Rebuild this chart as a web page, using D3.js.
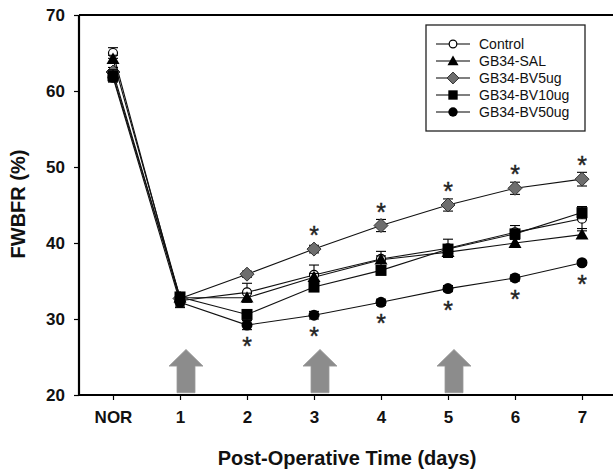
<html>
<head>
<script src="https://d3js.org/d3.v7.min.js"></script>
<style>
  body { margin: 0; background: #fff; }
  text { font-family: "Liberation Sans", Arial, sans-serif; }
</style>
</head>
<body>
<svg width="613" height="471"></svg>
<script>
var days = ["NOR", "1", "2", "3", "4", "5", "6", "7"];
var yTicks = [20, 30, 40, 50, 60, 70];

var control = [65.0, 32.4, 33.5, 35.8, 37.9, 39.3, 41.4, 43.2];
var sal     = [64.2, 32.8, 32.8, 35.5, 37.8, 38.8, 40.0, 41.1];
var bv5     = [62.5, 32.7, 35.9, 39.2, 42.3, 45.0, 47.2, 48.4];
var bv10    = [62.0, 32.9, 30.6, 34.2, 36.4, 39.2, 41.2, 44.0];
var bv50    = [61.8, 32.2, 29.2, 30.5, 32.2, 34.0, 35.4, 37.4];

var controlErr = [0.7, 0.9, 1.2, 1.3, 1.0, 1.2, 0.9, 1.3];
var salErr     = [0.5, 0.5, 0.6, 0.5, 0.5, 0.5, 0.5, 0.5];
var bv5Err     = [0.6, 0.4, 0.4, 0.5, 0.8, 0.8, 0.8, 0.9];
var bv10Err    = [0.8, 0.4, 0.5, 0.5, 0.6, 0.6, 0.5, 0.8];
var bv50Err    = [0.6, 0.5, 0.6, 0.5, 0.4, 0.4, 0.4, 0.3];

var sigAbove = ["3", "4", "5", "6", "7"];       // BV5ug
var sigBelow = ["2", "3", "4", "5", "6", "7"];  // BV50ug
var arrowDays = ["1", "3", "5"];

var series = [
  {name: "Control",     values: control, err: controlErr, shape: "circleOpen"},
  {name: "GB34-SAL",    values: sal,     err: salErr,     shape: "triangle"},
  {name: "GB34-BV5ug",  values: bv5,     err: bv5Err,     shape: "diamond"},
  {name: "GB34-BV10ug", values: bv10,    err: bv10Err,    shape: "square"},
  {name: "GB34-BV50ug", values: bv50,    err: bv50Err,    shape: "circle"}
];

var svg = d3.select("svg");
var plotL = 79, plotR = 613, plotT = 15, plotB = 395;

var x = d3.scalePoint().domain(days).range([113, 582]);
var y = d3.scaleLinear().domain([20, 70]).range([plotB, plotT]);

// frame top line
svg.append("line").attr("x1", plotL).attr("x2", plotR).attr("y1", plotT).attr("y2", plotT)
   .attr("stroke", "#000").attr("stroke-width", 2);

// arrows (drawn before axis)
var arrowShape = function(cx) {
  return "M" + (cx - 17) + "," + y(23.8) + " L" + cx + "," + y(26.0) + " L" + (cx + 17) + "," + y(23.8) +
         " L" + (cx + 9) + "," + y(23.8) + " L" + (cx + 9) + "," + y(20.3) +
         " L" + (cx - 9) + "," + y(20.3) + " L" + (cx - 9) + "," + y(23.8) + "Z";
};
svg.selectAll(".arrow").data(arrowDays).enter().append("path")
   .attr("class", "arrow")
   .attr("d", function(d) { return arrowShape(x(d) + 6); })
   .attr("fill", "#8c8c8c")
   .attr("stroke", "#9a9a9a").attr("stroke-width", 0.8);

// axes
var xAxis = svg.append("g").attr("transform", "translate(0," + plotB + ")")
   .call(d3.axisBottom(x).tickSize(5).tickPadding(11));
xAxis.select(".domain").remove();
xAxis.append("line").attr("x1", plotL).attr("x2", plotR).attr("stroke", "#000").attr("stroke-width", 2.2);
xAxis.selectAll(".tick line").attr("stroke", "#000").attr("stroke-width", 1.2);
xAxis.selectAll(".tick text").attr("font-size", 17).attr("font-weight", "bold").attr("fill", "#111")
   .attr("font-family", "'Liberation Sans', Arial, sans-serif");

var yAxis = svg.append("g").attr("transform", "translate(" + plotL + ",0)")
   .call(d3.axisLeft(y).tickValues(yTicks).tickSize(5).tickPadding(9));
yAxis.select(".domain").remove();
yAxis.append("line").attr("y1", plotT).attr("y2", plotB + 1).attr("stroke", "#000").attr("stroke-width", 2.2);
yAxis.selectAll(".tick line").attr("stroke", "#000").attr("stroke-width", 1.2);
yAxis.selectAll(".tick text").attr("font-size", 17).attr("font-weight", "bold").attr("fill", "#111")
   .attr("font-family", "'Liberation Sans', Arial, sans-serif");

// axis titles
svg.append("text").attr("x", 347).attr("y", 465).attr("text-anchor", "middle")
   .attr("font-size", 20).attr("font-weight", "bold").attr("fill", "#111")
   .text("Post-Operative Time (days)");
svg.append("text").attr("transform", "translate(25,204) rotate(-90)").attr("text-anchor", "middle")
   .attr("font-size", 20).attr("font-weight", "bold").attr("fill", "#111")
   .text("FWBFR (%)");

// lines
var line = d3.line().x(function(d, i) { return x(days[i]); }).y(function(d) { return y(d); });
series.forEach(function(s) {
  svg.append("path").datum(s.values).attr("d", line)
     .attr("fill", "none").attr("stroke", "#111").attr("stroke-width", 1.1);
});

// marker drawing
function drawMarker(g, shape, cx, cy, scale) {
  scale = scale || 1;
  if (shape === "circleOpen") {
    g.append("circle").attr("cx", cx).attr("cy", cy).attr("r", 4.5 * scale)
     .attr("fill", "#fff").attr("stroke", "#000").attr("stroke-width", 1.2);
  } else if (shape === "circle") {
    g.append("circle").attr("cx", cx).attr("cy", cy).attr("r", 5.5 * scale).attr("fill", "#000");
  } else if (shape === "square") {
    var h = 5.5 * scale;
    g.append("rect").attr("x", cx - h).attr("y", cy - h).attr("width", 2 * h).attr("height", 2 * h).attr("fill", "#000");
  } else if (shape === "triangle") {
    var t = 6.5 * scale;
    g.append("path").attr("d", "M" + cx + "," + (cy - t) + " L" + (cx + t) + "," + (cy + t * 0.75) + " L" + (cx - t) + "," + (cy + t * 0.75) + "Z")
     .attr("fill", "#000");
  } else if (shape === "diamond") {
    var dd = 7 * scale;
    g.append("path").attr("d", "M" + cx + "," + (cy - dd) + " L" + (cx + dd) + "," + cy + " L" + cx + "," + (cy + dd) + " L" + (cx - dd) + "," + cy + "Z")
     .attr("fill", "#6e6e6e").attr("stroke", "#333").attr("stroke-width", 1);
  }
}

// error bars + markers
series.forEach(function(s) {
  var g = svg.append("g");
  s.values.forEach(function(v, i) {
    var cx = x(days[i]);
    var e = s.err[i];
    g.append("line").attr("x1", cx).attr("x2", cx).attr("y1", y(v - e)).attr("y2", y(v + e))
     .attr("stroke", "#000").attr("stroke-width", 1.1);
    [v - e, v + e].forEach(function(w) {
      g.append("line").attr("x1", cx - 5).attr("x2", cx + 5).attr("y1", y(w)).attr("y2", y(w))
       .attr("stroke", "#000").attr("stroke-width", 1.1);
    });
    drawMarker(g, s.shape, cx, y(v));
  });
});

// significance asterisks
svg.selectAll(".sigA").data(sigAbove).enter().append("text")
   .attr("x", function(d) { return x(d); })
   .attr("y", function(d) { var i = days.indexOf(d); return y(bv5[i]) - 19 + 14; })
   .attr("text-anchor", "middle").attr("font-size", 25).attr("fill", "#222")
   .attr("stroke", "#222").attr("stroke-width", 0.4).text("*");
svg.selectAll(".sigB").data(sigBelow).enter().append("text")
   .attr("x", function(d) { return x(d); })
   .attr("y", function(d) { var i = days.indexOf(d); return y(bv50[i]) + 16 + 14; })
   .attr("text-anchor", "middle").attr("font-size", 25).attr("fill", "#222")
   .attr("stroke", "#222").attr("stroke-width", 0.4).text("*");

// legend
var lg = svg.append("g");
lg.append("rect").attr("x", 426).attr("y", 25).attr("width", 159).attr("height", 106)
  .attr("fill", "#fff").attr("stroke", "#222").attr("stroke-width", 1.3);
var legendY = d3.scalePoint().domain(series.map(function(s) { return s.name; })).range([44, 112]);
series.forEach(function(s) {
  var ly = legendY(s.name);
  lg.append("line").attr("x1", 436).attr("x2", 470).attr("y1", ly).attr("y2", ly)
    .attr("stroke", "#000").attr("stroke-width", 1.1);
  drawMarker(lg, s.shape, 453, ly, 0.85);
  lg.append("text").attr("x", 479).attr("y", ly + 5).attr("font-size", 14).attr("fill", "#111").text(s.name);
});
</script>
</body>
</html>
